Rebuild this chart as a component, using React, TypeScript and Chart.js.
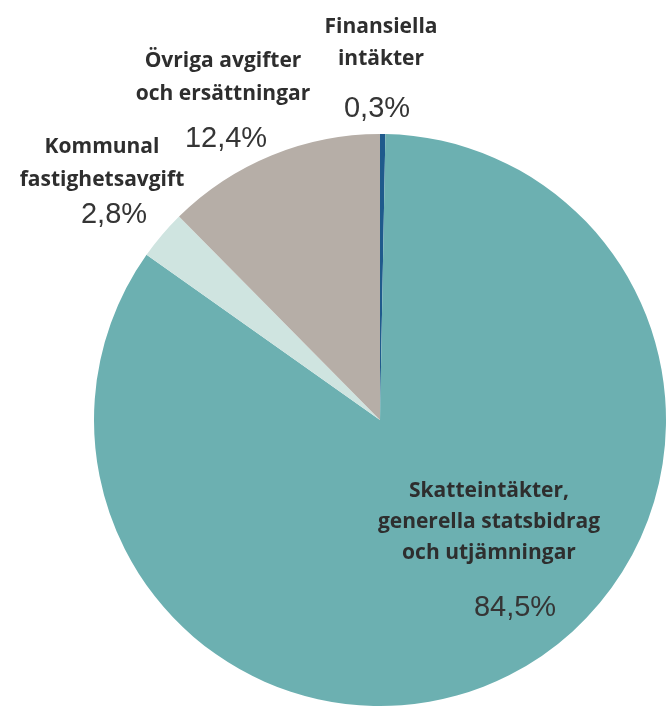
import React, { useEffect, useRef } from "react";
import { Chart, registerables } from "chart.js";

Chart.register(...registerables);

const categories = [
  "Finansiella intäkter",
  "Skatteintäkter, generella statsbidrag och utjämningar",
  "Kommunal fastighetsavgift",
  "Övriga avgifter och ersättningar",
];
const values = [0.3, 84.5, 2.8, 12.4];
const labelLines = [
  ["Finansiella", "intäkter"],
  ["Skatteintäkter,", "generella statsbidrag", "och utjämningar"],
  ["Kommunal", "fastighetsavgift"],
  ["Övriga avgifter", "och ersättningar"],
];
const percentLabels = values.map((v) => v.toFixed(1).replace(".", ",") + "%");
const colors = ["#1f5a8c", "#6cb0b1", "#cfe4e0", "#b6aea7"];

// label anchor positions (x center, first line baseline, line height, percent baseline)
const labelLayout = [
  { x: 381, y: 33, lh: 32, px: 377, py: 117 },
  { x: 489, y: 497, lh: 31, px: 515, py: 616 },
  { x: 102, y: 153, lh: 33, px: 114, py: 223 },
  { x: 223, y: 67, lh: 33, px: 226, py: 147 },
];

const labelPlugin = {
  id: "pieLabels",
  afterDraw(chart: any) {
    const ctx = chart.ctx;
    ctx.save();
    ctx.textAlign = "center";
    ctx.textBaseline = "alphabetic";
    labelLines.forEach((lines, i) => {
      const l = labelLayout[i];
      ctx.fillStyle = "#2e2e2e";
      ctx.font = "bold 21px 'Open Sans'";
      lines.forEach((t, j) => ctx.fillText(t, l.x, l.y + j * l.lh));
      ctx.fillStyle = "#353535";
      ctx.font = "29px 'Liberation Sans'";
      ctx.fillText(percentLabels[i], l.px, l.py);
    });
    ctx.restore();
  },
};

export default function App() {
  const ref = useRef<HTMLCanvasElement>(null);
  useEffect(() => {
    document.body.style.margin = "0";
    const chart = new Chart(ref.current!, {
      type: "pie",
      data: {
        labels: categories,
        datasets: [
          {
            data: values,
            backgroundColor: colors,
            borderWidth: 0,
          },
        ],
      },
      options: {
        animation: false,
        responsive: false,
        layout: { padding: { left: 94, right: 4, top: 134, bottom: 4 } },
        plugins: { legend: { display: false }, tooltip: { enabled: false } },
      },
      plugins: [labelPlugin],
    });
    return () => chart.destroy();
  }, []);
  return (
    <div style={{ width: 670, height: 710, background: "#fff" }}>
      <canvas ref={ref} width={670} height={710} />
    </div>
  );
}
